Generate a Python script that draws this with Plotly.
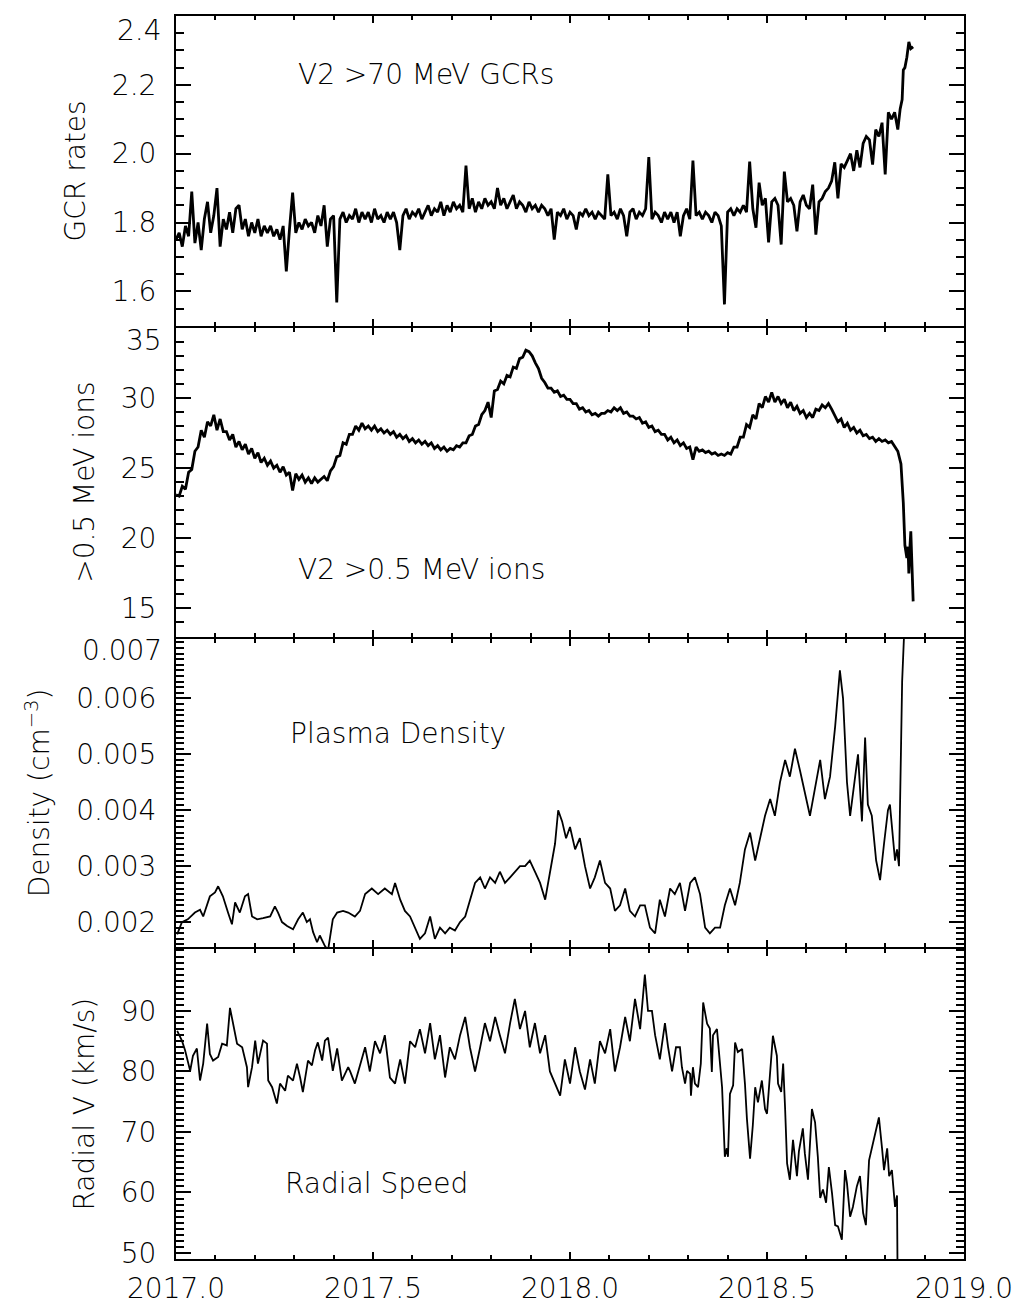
import plotly.graph_objects as go

# ---------------- data ----------------
# GCR rates: regularly sampled series (start year, step in years) + final tail
gcr_t0 = 2017.0
gcr_dt = 0.008
gcr_v = [1.75,1.77,1.73,1.79,1.76,1.89,1.74,1.80,1.72,1.81,
         1.86,1.77,1.82,1.90,1.73,1.81,1.78,1.83,1.77,1.84,
         1.85,1.78,1.81,1.76,1.80,1.77,1.81,1.76,1.79,1.77,
         1.79,1.76,1.78,1.75,1.79,1.658,1.78,1.887,1.77,1.80,
         1.78,1.81,1.79,1.80,1.77,1.82,1.79,1.85,1.73,1.81,
         1.82,1.568,1.81,1.83,1.80,1.82,1.81,1.84,1.80,1.83,
         1.81,1.83,1.80,1.84,1.81,1.82,1.80,1.83,1.81,1.83,
         1.80,1.72,1.82,1.84,1.81,1.83,1.82,1.84,1.81,1.83,
         1.85,1.82,1.84,1.83,1.86,1.82,1.85,1.83,1.86,1.84,
         1.85,1.83,1.965,1.84,1.87,1.83,1.86,1.84,1.87,1.85,
         1.86,1.84,1.90,1.85,1.87,1.84,1.86,1.88,1.84,1.86,
         1.85,1.83,1.86,1.84,1.85,1.83,1.85,1.84,1.82,1.84,
         1.75,1.83,1.82,1.84,1.81,1.83,1.82,1.78,1.83,1.82,
         1.84,1.82,1.83,1.81,1.83,1.82,1.81,1.94,1.82,1.83,
         1.81,1.84,1.82,1.76,1.83,1.84,1.81,1.83,1.82,1.84,
         1.99,1.81,1.83,1.82,1.80,1.83,1.81,1.83,1.80,1.83,
         1.76,1.82,1.84,1.81,1.98,1.82,1.83,1.81,1.83,1.82,
         1.80,1.83,1.82,1.79,1.562,1.83,1.84,1.82,1.84,1.83,
         1.85,1.83,1.977,1.84,1.785,1.916,1.85,1.87,1.742,1.86,
         1.87,1.85,1.736,1.948,1.86,1.87,1.85,1.774,1.86,1.88,
         1.85,1.84,1.91,1.765,1.86,1.87,1.89,1.90,1.92,1.975,
         1.87,1.97,1.96,1.98,2.00,1.95,2.01,1.96,2.03,2.05,
         2.04,1.968,2.07,2.05,2.09,1.94,2.12,2.10,2.12,2.07]
gcr_tail_t = [2018.838,2018.843,2018.846,2018.850,2018.855,2018.860,2018.865,2018.871]
gcr_tail_v = [2.13,2.157,2.243,2.25,2.28,2.325,2.305,2.31]

# >0.5 MeV ions
ion_t0 = 2017.0
ion_dt = 0.008
ion_v = [23.1,23.0,23.7,23.5,24.7,24.9,26.2,26.5,27.7,27.2,
         28.3,28.0,28.8,27.7,28.5,27.6,27.6,27.0,27.4,26.5,
         26.9,26.3,26.7,26.0,26.4,25.7,26.1,25.4,25.7,25.2,
         25.5,25.0,25.2,24.7,25.1,24.5,24.7,23.4,24.6,24.2,
         24.5,24.0,24.3,23.9,24.3,24.0,24.2,24.4,24.1,24.8,
         25.1,25.8,25.9,26.8,26.7,27.4,27.4,28.0,27.7,28.2,
         27.8,28.0,27.7,28.0,27.6,27.8,27.5,27.7,27.4,27.6,
         27.2,27.4,27.1,27.3,26.9,27.1,26.8,27.0,26.7,26.9,
         26.6,26.8,26.4,26.6,26.3,26.5,26.2,26.4,26.3,26.6,
         26.5,26.8,26.8,27.3,27.4,28.0,28.1,28.8,29.1,29.7,
         28.6,30.5,30.6,31.2,31.0,31.6,31.5,32.2,32.1,32.8,
         32.9,33.4,33.3,33.0,32.5,32.1,31.4,31.1,30.7,30.7,
         30.4,30.5,30.1,30.2,29.9,29.9,29.6,29.6,29.2,29.3,
         29.0,29.1,28.8,28.9,28.7,28.9,28.9,29.1,29.0,29.3,
         29.1,29.3,28.9,29.0,28.7,28.7,28.5,28.6,28.2,28.3,
         27.9,28.0,27.6,27.7,27.4,27.4,27.0,27.2,26.8,27.0,
         26.6,26.8,26.4,26.5,25.6,26.5,26.2,26.3,26.1,26.2,
         26.0,26.1,25.9,26.0,25.9,26.1,26.0,26.5,26.5,27.2,
         27.2,28.1,27.9,28.8,28.5,29.6,29.3,30.1,29.7,30.4,
         29.7,30.1,29.6,29.9,29.3,29.7,29.1,29.4,28.9,29.1,
         28.6,28.9,28.6,29.2,29.1,29.5,29.3,29.6,29.2,28.8,
         28.3,28.5,27.9,28.2,27.7,27.9,27.5,27.7,27.3,27.4,
         27.1,27.2,26.9,27.1,26.9,27.0,26.8,26.9,26.5,26.2,
         25.3]
ion_tail_t = [2018.846,2018.850,2018.855,2018.858,2018.860,2018.863,2018.865,2018.868,2018.871]
ion_tail_v = [22.5,19.5,18.6,19.4,17.5,19.5,20.5,18.0,15.5]

den_t = [2017.003,2017.015,2017.030,2017.048,2017.061,2017.069,2017.086,2017.099,2017.107,2017.119,2017.132,2017.142,2017.150,2017.162,2017.175,2017.183,2017.193,2017.206,2017.221,2017.239,2017.251,2017.259,2017.269,2017.282,2017.297,2017.310,2017.322,2017.332,2017.340,2017.348,2017.358,2017.365,2017.378,2017.386,2017.398,2017.409,2017.424,2017.437,2017.454,2017.467,2017.480,2017.497,2017.513,2017.530,2017.548,2017.556,2017.569,2017.581,2017.594,2017.607,2017.619,2017.632,2017.645,2017.657,2017.670,2017.683,2017.695,2017.708,2017.721,2017.734,2017.746,2017.759,2017.772,2017.784,2017.797,2017.810,2017.822,2017.835,2017.848,2017.860,2017.873,2017.886,2017.898,2017.911,2017.924,2017.937,2017.949,2017.962,2017.970,2017.980,2017.990,2018.000,2018.013,2018.025,2018.038,2018.051,2018.063,2018.076,2018.089,2018.102,2018.114,2018.127,2018.140,2018.152,2018.165,2018.178,2018.190,2018.203,2018.216,2018.228,2018.241,2018.254,2018.266,2018.279,2018.292,2018.305,2018.317,2018.330,2018.343,2018.355,2018.368,2018.381,2018.393,2018.406,2018.419,2018.431,2018.444,2018.457,2018.470,2018.482,2018.495,2018.508,2018.520,2018.533,2018.546,2018.558,2018.571,2018.584,2018.596,2018.609,2018.622,2018.635,2018.647,2018.660,2018.673,2018.685,2018.693,2018.703,2018.711,2018.723,2018.731,2018.741,2018.749,2018.756,2018.766,2018.777,2018.787,2018.797,2018.807,2018.812,2018.820,2018.825,2018.830,2018.835,2018.843,2018.850]
den_v = [0.00178,0.0020,0.00205,0.00217,0.00222,0.0021,0.00246,0.00253,0.00264,0.00246,0.00217,0.00196,0.00235,0.00217,0.00246,0.0025,0.0021,0.00205,0.00207,0.0021,0.00228,0.00217,0.0020,0.00193,0.00187,0.00205,0.00217,0.0020,0.00205,0.00182,0.00164,0.00176,0.00157,0.0015,0.00205,0.00217,0.0022,0.00217,0.0021,0.0022,0.0025,0.0026,0.0025,0.0026,0.0025,0.0027,0.0024,0.0022,0.0021,0.0019,0.0017,0.0018,0.0021,0.0017,0.0019,0.0018,0.0019,0.00185,0.0020,0.0021,0.0024,0.0027,0.0028,0.0026,0.0028,0.0027,0.0029,0.0027,0.0028,0.0029,0.0030,0.0030,0.0031,0.0029,0.0027,0.0024,0.0029,0.0034,0.0040,0.0038,0.0035,0.0037,0.0033,0.0035,0.0030,0.0026,0.0028,0.0031,0.0027,0.0026,0.0022,0.0023,0.0026,0.0022,0.0021,0.0023,0.0023,0.0019,0.0018,0.0024,0.0021,0.0026,0.0025,0.0027,0.0022,0.0027,0.0028,0.0025,0.0019,0.0018,0.0019,0.0019,0.0023,0.0026,0.0023,0.0027,0.0033,0.0036,0.0031,0.0035,0.0039,0.0042,0.0039,0.0045,0.0049,0.0046,0.0051,0.0047,0.0043,0.0039,0.0044,0.0049,0.0042,0.0046,0.0055,0.0065,0.0060,0.0045,0.0039,0.0046,0.0050,0.0038,0.0053,0.0041,0.0039,0.0031,0.00275,0.0034,0.0040,0.0041,0.0035,0.0031,0.0033,0.0030,0.0063,0.0075]

vr_t = [2017.003,2017.015,2017.023,2017.030,2017.036,2017.043,2017.053,2017.061,2017.069,2017.079,2017.086,2017.094,2017.107,2017.117,2017.129,2017.137,2017.145,2017.155,2017.168,2017.180,2017.183,2017.193,2017.201,2017.208,2017.221,2017.231,2017.234,2017.244,2017.256,2017.264,2017.277,2017.284,2017.297,2017.307,2017.315,2017.322,2017.335,2017.345,2017.353,2017.360,2017.371,2017.378,2017.386,2017.398,2017.409,2017.421,2017.437,2017.442,2017.454,2017.467,2017.480,2017.492,2017.505,2017.518,2017.530,2017.543,2017.556,2017.569,2017.581,2017.594,2017.607,2017.619,2017.632,2017.645,2017.657,2017.670,2017.683,2017.695,2017.708,2017.721,2017.734,2017.746,2017.759,2017.772,2017.784,2017.797,2017.810,2017.822,2017.835,2017.848,2017.860,2017.873,2017.886,2017.898,2017.911,2017.924,2017.937,2017.949,2017.962,2017.975,2017.987,2018.000,2018.013,2018.025,2018.038,2018.051,2018.063,2018.076,2018.089,2018.102,2018.114,2018.127,2018.140,2018.152,2018.165,2018.178,2018.190,2018.198,2018.208,2018.216,2018.228,2018.241,2018.249,2018.259,2018.269,2018.279,2018.284,2018.292,2018.297,2018.305,2018.307,2018.312,2018.317,2018.325,2018.332,2018.338,2018.348,2018.355,2018.360,2018.363,2018.373,2018.381,2018.386,2018.393,2018.398,2018.401,2018.406,2018.414,2018.419,2018.426,2018.437,2018.444,2018.449,2018.457,2018.464,2018.470,2018.477,2018.487,2018.495,2018.500,2018.508,2018.515,2018.525,2018.528,2018.536,2018.541,2018.546,2018.551,2018.558,2018.566,2018.576,2018.581,2018.591,2018.596,2018.604,2018.614,2018.622,2018.629,2018.635,2018.642,2018.650,2018.657,2018.665,2018.673,2018.680,2018.690,2018.698,2018.703,2018.711,2018.718,2018.728,2018.736,2018.744,2018.751,2018.759,2018.769,2018.779,2018.784,2018.792,2018.797,2018.805,2018.810,2018.817,2018.825,2018.830,2018.832]
vr_v = [86.7,85.1,83.5,81.8,80.1,82.6,83.8,78.5,81.3,87.9,82.9,81.8,82.4,84.6,84.3,90.5,87.9,84.6,84.0,80.7,77.4,80.7,85.1,81.3,85.1,84.6,78.5,77.4,74.7,78.0,76.8,79.3,78.5,81.3,79.0,76.6,81.8,81.0,83.5,84.8,81.8,85.1,85.6,80.1,83.8,78.5,80.7,80,78,81,84,80,85,83,86,79,78,82,78,85,84,87,83,88,82,86,79,84,82,86,89,84,80,84,88,85,89,86,83,88,92,87,90,84,88,83,86,80,78,76,82,78,84,80,77,82,78,85,83,87,80,84,89,85,92,87,96,90,90,86,82,88,84,80,84,84.0,80.7,78.0,80.1,79.6,76,80.7,78,77.4,81.3,91.4,87.9,87.1,79.9,86,87,80.7,77.4,65.9,67.3,65.9,76.3,77.7,84.8,83.2,83.7,78,72.2,65.6,71.1,77.4,74.9,78.5,73.8,73.0,80.7,85.9,82.6,78,76.6,81.3,73.8,64.8,62.1,68.7,62.7,66.8,70.6,66.5,62.1,73.8,71.6,65.9,59.1,60.5,58.3,64.2,59.9,54.6,54.4,52.2,63.7,61.5,56.0,57.6,61,62.7,56.6,54.6,65.3,68.3,70.8,72.4,67.3,63.7,67.3,62.7,63.7,57.6,59.5,40]

x_ticks = [2017.0, 2017.5, 2018.0, 2018.5, 2019.0]
x_ticklabels = ["2017.0", "2017.5", "2018.0", "2018.5", "2019.0"]
y1_ticks = [1.6, 1.8, 2.0, 2.2]
y1_labels = ["1.6", "1.8", "2.0", "2.2"]
y2_ticks = [15, 20, 25, 30]
y2_labels = ["15", "20", "25", "30"]
y3_ticks = [0.002, 0.003, 0.004, 0.005, 0.006]
y3_labels = ["0.002", "0.003", "0.004", "0.005", "0.006"]
y4_ticks = [50, 60, 70, 80, 90]
y4_labels = ["50", "60", "70", "80", "90"]

gcr_t = [gcr_t0 + i * gcr_dt for i in range(len(gcr_v))] + gcr_tail_t
gcr_all = gcr_v + gcr_tail_v
ion_t = [ion_t0 + i * ion_dt for i in range(len(ion_v))] + ion_tail_t
ion_all = ion_v + ion_tail_v

# ---------------- figure ----------------
FONT = "DejaVu Sans"
FS = 28
FW = 300
fig = go.Figure()
fig.add_trace(go.Scatter(x=gcr_t, y=gcr_all, mode="lines", line=dict(color="black", width=2.8), xaxis="x", yaxis="y"))
fig.add_trace(go.Scatter(x=ion_t, y=ion_all, mode="lines", line=dict(color="black", width=2.8), xaxis="x2", yaxis="y2"))
fig.add_trace(go.Scatter(x=den_t, y=den_v, mode="lines", line=dict(color="black", width=1.8), xaxis="x3", yaxis="y3"))
fig.add_trace(go.Scatter(x=vr_t, y=vr_v, mode="lines", line=dict(color="black", width=1.8), xaxis="x4", yaxis="y4"))

def tf():
    return dict(family=FONT, size=FS, color="black", weight=FW)

def xax(anchor, labels):
    return dict(range=[2017, 2019], tickvals=x_ticks, ticktext=x_ticklabels, showticklabels=labels,
                ticks="inside", ticklen=7, tickwidth=2, tickcolor="black",
                minor=dict(dtick=0.1, tick0=2017, ticks="inside", ticklen=4, tickwidth=2, tickcolor="black", showgrid=False),
                showline=True, linecolor="black", linewidth=2, mirror="ticks",
                showgrid=False, zeroline=False, anchor=anchor, automargin=False,
                tickfont=tf(), ticklabelstandoff=3)

def yax(rng, tv, tt, mdt, domain, title, anchor):
    return dict(range=rng, tickvals=tv, ticktext=tt, domain=domain,
                ticks="inside", ticklen=15, tickwidth=2, tickcolor="black",
                minor=dict(dtick=mdt, ticks="inside", ticklen=8, tickwidth=2, tickcolor="black", showgrid=False),
                showline=True, linecolor="black", linewidth=2, mirror="ticks",
                showgrid=False, zeroline=False, anchor=anchor, automargin=False,
                tickfont=tf(), ticklabelstandoff=12,
                title=dict(text=title, font=tf(), standoff=18))

p = 1.0 / 1243  # one pixel of the stacked plot height
fig.update_layout(
    width=1025, height=1315,
    margin=dict(l=176, r=61, t=16, b=56, autoexpand=False),
    paper_bgcolor="white", plot_bgcolor="white",
    showlegend=False,
    xaxis=xax("y", False), xaxis2=xax("y2", False), xaxis3=xax("y3", False), xaxis4=xax("y4", True),
    yaxis=yax([1.5, 2.4], y1_ticks, y1_labels, 0.05, [0.75 + p, 1.0], "GCR rates", "x"),
    yaxis2=yax([13, 35], y2_ticks, y2_labels, 1, [0.5 + p, 0.75 - p], ">0.5 MeV ions", "x2"),
    yaxis3=yax([0.00155, 0.00707], y3_ticks, y3_labels, 0.0001, [0.25 + p, 0.5 - p], "Density (cm<sup>\u22123</sup>)", "x3"),
    yaxis4=yax([49, 100.2], y4_ticks, y4_labels, 1, [0.0, 0.25 - p], "Radial V (km/s)", "x4"),
)

fs = tf()
ann = [
    dict(text="V2 >70 MeV GCRs", x=2017.635, y=2.229, xref="x", yref="y", showarrow=False, font=fs),
    dict(text="V2 >0.5 MeV ions", x=2017.622, y=17.8, xref="x2", yref="y2", showarrow=False, font=fs),
    dict(text="Plasma Density", x=2017.563, y=0.00538, xref="x3", yref="y3", showarrow=False, font=fs),
    dict(text="Radial Speed", x=2017.508, y=61.5, xref="x4", yref="y4", showarrow=False, font=fs),
    # top tick labels, drawn slightly below the frame top as in the original
    dict(text="2.4", x=0, xshift=-12, xanchor="right", y=2.4, yshift=-14, xref="paper", yref="y", showarrow=False, font=fs),
    dict(text="35", x=0, xshift=-12, xanchor="right", y=35, yshift=-13, xref="paper", yref="y2", showarrow=False, font=fs),
    dict(text="0.007", x=0, xshift=-12, xanchor="right", y=0.007, yshift=-8, xref="paper", yref="y3", showarrow=False, font=fs),
]
fig.update_layout(annotations=ann)

fig.write_html("out.html")
